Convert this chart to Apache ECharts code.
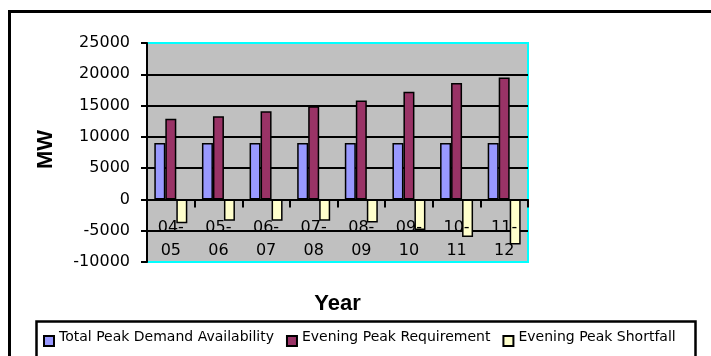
<!DOCTYPE html>
<html>
<head>
<meta charset="utf-8">
<script src="https://cdn.jsdelivr.net/npm/echarts@6/dist/echarts.min.js"></script>
<style>
  html, body { margin: 0; padding: 0; background: #ffffff; }
  #chart { width: 711px; height: 356px; }
</style>
</head>
<body>
<div id="chart"></div>
<script>
// Financial years on the category axis
const years = ['04-05', '05-06', '06-07', '07-08', '08-09', '09-10', '10-11', '11-12'];

// Megawatt figures per year
const availability = [9000, 9000, 9000, 9000, 9000, 9000, 9000, 9000];
const requirement  = [12900, 13300, 14100, 14900, 15800, 17200, 18600, 19500];
const shortfall    = [-3800, -3400, -3400, -3400, -3700, -4900, -6000, -7200];

const seriesNames = ['Total Peak Demand Availability', 'Evening Peak Requirement', 'Evening Peak Shortfall'];
const seriesColors = ['#9999FF', '#993366', '#FFFFCC'];

const labelFont = 'DejaVu Sans';
const titleFont = 'Liberation Sans';

function barSeries(i, values) {
  return {
    name: seriesNames[i],
    type: 'bar',
    data: values,
    barWidth: 11,
    barGap: '0%',
    z: 2,
    itemStyle: { color: seriesColors[i], borderColor: '#000000', borderWidth: 1.5 }
  };
}

const chart = echarts.init(document.getElementById('chart'), null, { renderer: 'canvas' });

chart.setOption({
  animation: false,
  backgroundColor: '#ffffff',
  grid: {
    left: 147, right: 183, top: 43, bottom: 94,
    containLabel: false,
    outerBoundsMode: 'none',
    show: true,
    backgroundColor: '#C0C0C0',
    borderColor: '#00FFFF',
    borderWidth: 2
  },
  legend: {
    left: 43, top: 327,
    padding: 0,
    itemWidth: 10, itemHeight: 18,
    itemGap: 12,
    // square key sitting in the lower part of the item box
    icon: 'path://M0,0L0,0M0,8h10v10h-10z',
    selectedMode: false,
    textStyle: { fontFamily: labelFont, fontSize: 14, color: '#000000' },
    data: seriesNames
  },
  xAxis: {
    type: 'category',
    data: years,
    zlevel: 1,
    name: 'Year',
    nameLocation: 'middle',
    nameGap: 31,
    nameTextStyle: { fontFamily: titleFont, fontWeight: 'bold', fontSize: 22, color: '#000000' },
    axisLine: { onZero: true, lineStyle: { color: '#000000', width: 2 } },
    axisTick: { show: true, length: 8, lineStyle: { color: '#000000', width: 2 } },
    axisLabel: {
      margin: -46,
      fontFamily: labelFont, fontSize: 16, color: '#000000', lineHeight: 23,
      formatter: v => v.replace('-', '-\n')
    },
    splitLine: { show: false }
  },
  yAxis: {
    type: 'value',
    min: -10000, max: 25000, interval: 5000,
    name: 'MW',
    nameLocation: 'middle',
    nameRotate: 90,
    nameGap: 90,
    nameTextStyle: { fontFamily: titleFont, fontWeight: 'bold', fontSize: 22, color: '#000000', padding: [0, 0, 0, 6] },
    axisLine: { show: true, lineStyle: { color: '#000000', width: 2 } },
    axisTick: { show: true, length: 6, lineStyle: { color: '#000000', width: 2 } },
    axisLabel: {
      margin: 17, fontFamily: labelFont, fontSize: 16, color: '#000000',
      formatter: v => String(v)
    },
    splitLine: { show: true, showMinLine: false, showMaxLine: false, lineStyle: { color: '#000000', width: 2 } }
  },
  graphic: [
    {
      type: 'rect', silent: true, z: 100,
      shape: { x: 9.5, y: 11.5, width: 740, height: 400 },
      style: { fill: 'none', stroke: '#000000', lineWidth: 3 }
    },
    {
      type: 'rect', silent: true, z: 100,
      shape: { x: 36.5, y: 321.5, width: 659, height: 60 },
      style: { fill: 'none', stroke: '#000000', lineWidth: 2.5 }
    }
  ],
  series: [
    barSeries(0, availability),
    barSeries(1, requirement),
    barSeries(2, shortfall)
  ]
});
</script>
</body>
</html>
